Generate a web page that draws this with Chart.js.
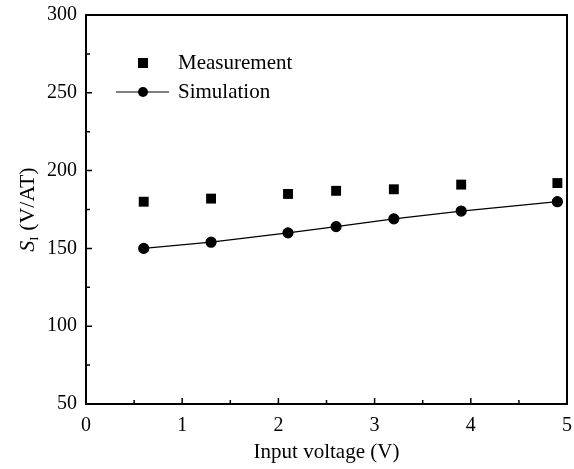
<!DOCTYPE html>
<html>
<head>
<meta charset="utf-8">
<script src="https://cdn.jsdelivr.net/npm/chart.js@4"></script>
<style>
    html, body { margin: 0; padding: 0; background: #fff; }
    #wrap { width: 574px; height: 469px; }
</style>
</head>
<body>
<div id="wrap"><canvas id="chart" width="574" height="469"></canvas></div>
<script>
// =====================================
// Data
// =====================================
const voltage = [0.6, 1.3, 2.1, 2.6, 3.2, 3.9, 4.9];
const measurement = [180, 182, 185, 187, 188, 191, 192];
const simulation = [150, 154, 160, 164, 169, 174, 180];
const xTicks = [0, 1, 2, 3, 4, 5];
const yTicks = [50, 100, 150, 200, 250, 300];

const FONT = "'Liberation Serif', 'DejaVu Serif', serif";

// Frame, inward ticks, legend and the y title with its subscript
const decorations = {
    id: "decorations",
    afterDraw(chart) {
        const ctx = chart.ctx;
        const area = chart.chartArea;
        const xs = chart.scales.x;
        const ys = chart.scales.y;

        ctx.save();
        ctx.strokeStyle = "#000";
        ctx.lineWidth = 2;
        ctx.strokeRect(area.left, area.top, area.right - area.left, area.bottom - area.top);

        // ticks pointing into the plot
        ctx.lineWidth = 1.5;
        ctx.beginPath();
        for (let v = 0.5; v < 5; v += 0.5) {
            const px = xs.getPixelForValue(v);
            const len = Number.isInteger(v) ? 6 : 4;
            ctx.moveTo(px, area.bottom);
            ctx.lineTo(px, area.bottom - len);
        }
        for (let v = 75; v < 300; v += 25) {
            const py = ys.getPixelForValue(v);
            const len = v % 50 === 0 ? 6 : 4;
            ctx.moveTo(area.left, py);
            ctx.lineTo(area.left + len, py);
        }
        ctx.stroke();

        // legend
        ctx.fillStyle = "#000";
        ctx.font = "21px " + FONT;
        ctx.textBaseline = "middle";
        ctx.fillRect(138, 58, 10, 10);
        ctx.fillText("Measurement", 178, 63);
        ctx.lineWidth = 1.2;
        ctx.beginPath();
        ctx.moveTo(116, 92);
        ctx.lineTo(169, 92);
        ctx.stroke();
        ctx.beginPath();
        ctx.arc(143, 92, 5, 0, Math.PI * 2);
        ctx.fill();
        ctx.fillText("Simulation", 178, 92);

        // y title: S_I (V/AT)
        ctx.translate(26, (area.top + area.bottom) / 2);
        ctx.rotate(-Math.PI / 2);
        ctx.textBaseline = "alphabetic";
        const partS = "S";
        const partI = "I";
        const partRest = " (V/AT)";
        ctx.font = "italic 22px " + FONT;
        const wS = ctx.measureText(partS).width;
        ctx.font = "13px " + FONT;
        const wI = ctx.measureText(partI).width;
        ctx.font = "22px " + FONT;
        const wR = ctx.measureText(partRest).width;
        let x0 = -(wS + wI + wR) / 2;
        ctx.font = "italic 22px " + FONT;
        ctx.fillText(partS, x0, 8);
        x0 += wS;
        ctx.font = "13px " + FONT;
        ctx.fillText(partI, x0, 12);
        x0 += wI;
        ctx.font = "22px " + FONT;
        ctx.fillText(partRest, x0, 8);
        ctx.restore();
    }
};

const ctx = document.getElementById("chart").getContext("2d");
new Chart(ctx, {
    type: "scatter",
    data: {
        datasets: [
            {
                label: "Measurement",
                data: voltage.map((v, i) => ({ x: v, y: measurement[i] })),
                pointStyle: "rect",
                pointRadius: 7,
                backgroundColor: "#000",
                borderColor: "#000",
                borderWidth: 0,
                showLine: false
            },
            {
                label: "Simulation",
                data: voltage.map((v, i) => ({ x: v, y: simulation[i] })),
                pointStyle: "circle",
                pointRadius: 5,
                backgroundColor: "#000",
                borderColor: "#000",
                borderWidth: 1.2,
                showLine: true
            }
        ]
    },
    options: {
        responsive: false,
        animation: false,
        events: [],
        layout: { padding: { top: 15, right: 4, left: 0, bottom: 0 } },
        plugins: {
            legend: { display: false },
            tooltip: { enabled: false }
        },
        scales: {
            x: {
                type: "linear",
                min: 0,
                max: 5,
                afterBuildTicks: scale => { scale.ticks = xTicks.map(v => ({ value: v })); },
                afterFit: scale => {
                    scale.height = 65;
                    scale.paddingLeft = 0;
                    scale.paddingRight = 0;
                },
                grid: { display: false, drawTicks: false },
                border: { display: false },
                ticks: {
                    color: "#000",
                    padding: 10,
                    font: { family: FONT, size: 20 },
                    callback: v => String(v)
                },
                title: {
                    display: true,
                    text: "Input voltage (V)",
                    color: "#000",
                    font: { family: FONT, size: 21 },
                    padding: { top: 13 }
                }
            },
            y: {
                type: "linear",
                min: 50,
                max: 300,
                afterBuildTicks: scale => { scale.ticks = yTicks.map(v => ({ value: v })); },
                afterFit: scale => {
                    scale.width = 86;
                    scale.paddingTop = 0;
                    scale.paddingBottom = 0;
                },
                grid: { display: false, drawTicks: false },
                border: { display: false },
                ticks: {
                    color: "#000",
                    padding: 9,
                    font: { family: FONT, size: 20 },
                    callback: v => String(v)
                }
            }
        }
    },
    plugins: [decorations]
});
</script>
</body>
</html>
